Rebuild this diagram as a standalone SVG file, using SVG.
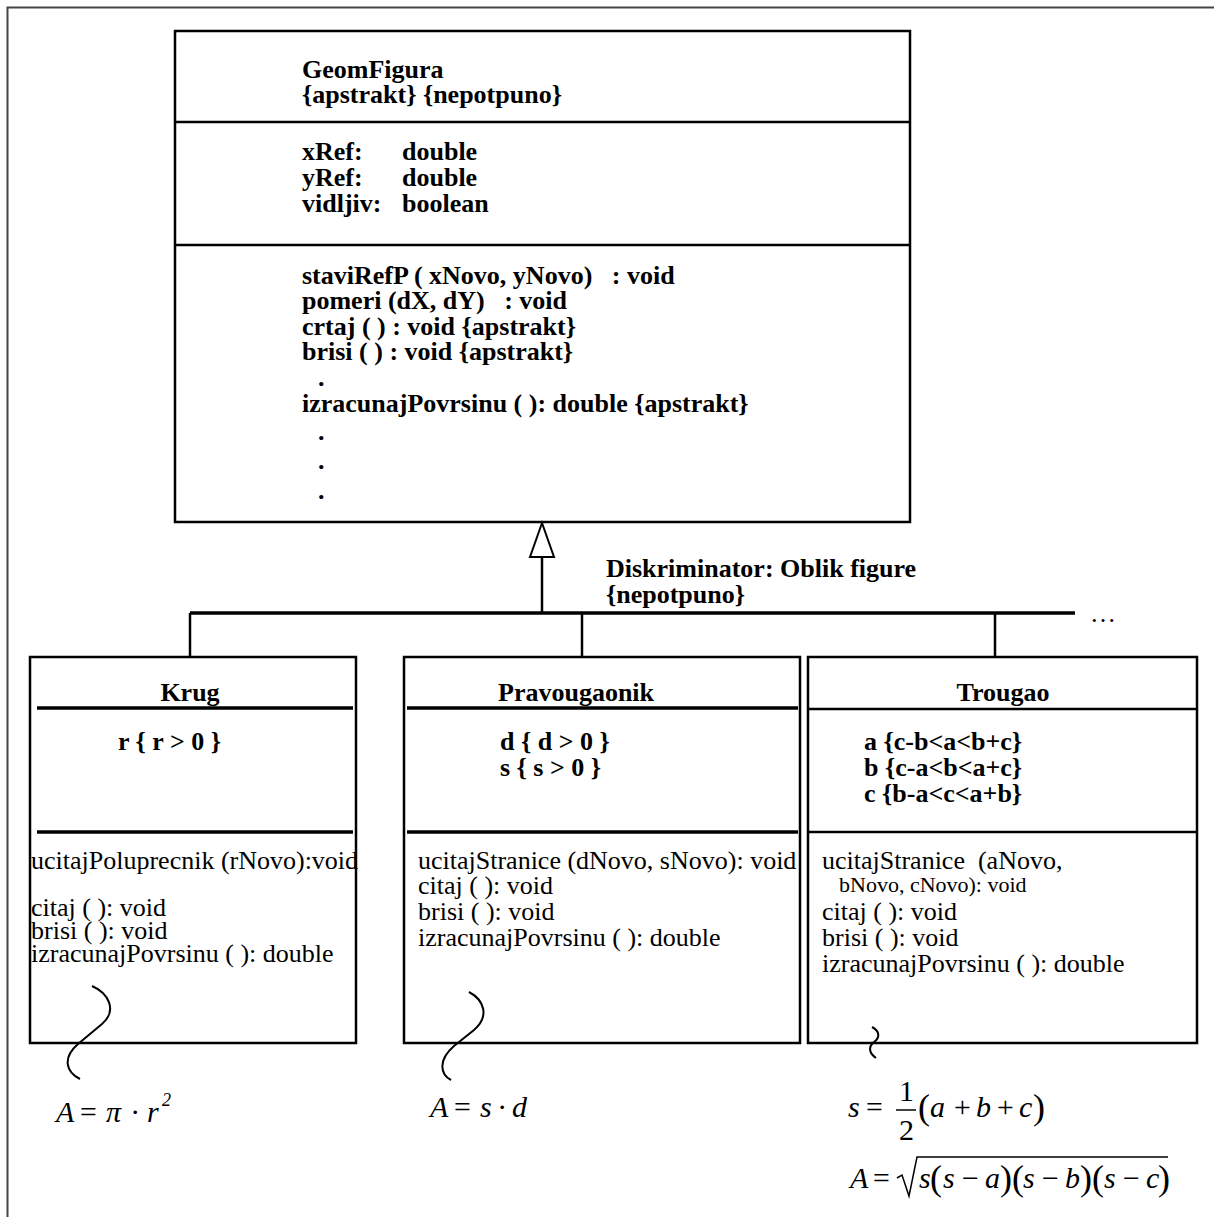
<svg xmlns="http://www.w3.org/2000/svg" width="1214" height="1217" viewBox="0 0 1214 1217">
<style>
  text { font-family: "Liberation Serif", "Times New Roman", serif; fill: #000; white-space: pre; }
  .b { font-weight: bold; font-size: 26px; }
  .r { font-size: 26px; }
  .m { font-style: italic; font-size: 30px; }
  .mu { font-size: 30px; }
  .box { fill: #fff; stroke: #000; stroke-width: 2.5; }
  .div { stroke: #000; stroke-width: 2.5; }
  .div3 { stroke: #000; stroke-width: 3.5; }
  .ln { stroke: #000; stroke-width: 2.5; fill: none; }
  .sq { stroke: #000; stroke-width: 2; fill: none; }
</style>
<rect width="1214" height="1217" fill="#fff"/>
<path d="M7.5,1217 V7.5 H1214" fill="none" stroke="#444" stroke-width="2"/>

<g id="GeomFigura">
  <rect class="box" x="175" y="31" width="735" height="491"/>
  <line class="div" x1="175" y1="122" x2="910" y2="122"/>
  <line class="div" x1="175" y1="245" x2="910" y2="245"/>
  <text class="b" x="302" y="78">GeomFigura</text>
  <text class="b" x="302" y="103">{apstrakt} {nepotpuno}</text>
  <text class="b" x="302" y="160">xRef:</text><text class="b" x="402" y="160">double</text>
  <text class="b" x="302" y="186">yRef:</text><text class="b" x="402" y="186">double</text>
  <text class="b" x="302" y="212">vidljiv:</text><text class="b" x="402" y="212">boolean</text>
  <text class="b" x="302" y="284">staviRefP ( xNovo, yNovo)   : void</text>
  <text class="b" x="302" y="309">pomeri (dX, dY)   : void</text>
  <text class="b" x="302" y="335">crtaj ( ) : void {apstrakt}</text>
  <text class="b" x="302" y="360">brisi ( ) : void {apstrakt}</text>
  <text class="b" x="318" y="386">.</text>
  <text class="b" x="302" y="412">izracunajPovrsinu ( ): double {apstrakt}</text>
  <text class="b" x="318" y="440">.</text>
  <text class="b" x="318" y="469">.</text>
  <text class="b" x="318" y="499">.</text>
</g>

<g id="discriminator">
  <text class="b" x="606" y="577">Diskriminator: Oblik figure</text>
  <text class="b" x="606" y="603">{nepotpuno}</text>
  <text class="r" x="1090" y="622">…</text>
</g>

<g id="Krug">
  <rect class="box" x="30" y="657" width="326" height="386"/>
  <line class="div3" x1="37" y1="708" x2="353" y2="708"/>
  <line class="div3" x1="37" y1="832" x2="353" y2="832"/>
  <text class="b" x="190" y="701" text-anchor="middle">Krug</text>
  <text class="b" x="118" y="750">r { r &gt; 0 }</text>
  <text class="r" x="31" y="869">ucitajPoluprecnik (rNovo):void</text>
  <text class="r" x="31" y="916">citaj ( ): void</text>
  <text class="r" x="31" y="939">brisi ( ): void</text>
  <text class="r" x="31" y="962">izracunajPovrsinu ( ): double</text>
</g>

<g id="Pravougaonik">
  <rect class="box" x="404" y="657" width="396" height="386"/>
  <line class="div3" x1="407" y1="708" x2="798" y2="708"/>
  <line class="div3" x1="407" y1="832" x2="798" y2="832"/>
  <text class="b" x="498" y="701">Pravougaonik</text>
  <text class="b" x="500" y="750">d { d &gt; 0 }</text>
  <text class="b" x="500" y="776">s { s &gt; 0 }</text>
  <text class="r" x="418" y="869">ucitajStranice (dNovo, sNovo): void</text>
  <text class="r" x="418" y="894">citaj ( ): void</text>
  <text class="r" x="418" y="920">brisi ( ): void</text>
  <text class="r" x="418" y="946">izracunajPovrsinu ( ): double</text>
</g>

<g id="Trougao">
  <rect class="box" x="808" y="657" width="389" height="386"/>
  <line class="div" x1="808" y1="709" x2="1197" y2="709"/>
  <line class="div" x1="808" y1="832" x2="1197" y2="832"/>
  <text class="b" x="1003" y="701" text-anchor="middle">Trougao</text>
  <text class="b" x="864" y="750">a {c-b&lt;a&lt;b+c}</text>
  <text class="b" x="864" y="776">b {c-a&lt;b&lt;a+c}</text>
  <text class="b" x="864" y="802">c {b-a&lt;c&lt;a+b}</text>
  <text class="r" x="822" y="869">ucitajStranice  (aNovo,</text>
  <text class="r" x="839" y="892" style="font-size:22px">bNovo, cNovo): void</text>
  <text class="r" x="822" y="920">citaj ( ): void</text>
  <text class="r" x="822" y="946">brisi ( ): void</text>
  <text class="r" x="822" y="972">izracunajPovrsinu ( ): double</text>
</g>

<g id="connectors">
  <polygon points="542,523 530,557 554,557" fill="#fff" stroke="#000" stroke-width="2"/>
  <line class="ln" x1="542" y1="557" x2="542" y2="613"/>
  <line stroke="#000" stroke-width="3.5" x1="190" y1="613" x2="1075" y2="613"/>
  <line class="ln" x1="190" y1="613" x2="190" y2="657"/>
  <line class="ln" x1="582" y1="613" x2="582" y2="657"/>
  <line class="ln" x1="995" y1="613" x2="995" y2="657"/>
  <path class="sq" d="M92,986 C108,993 118,1010 102,1024 L78,1044 C62,1058 66,1072 80,1079"/>
  <path class="sq" d="M469,992 C484,1000 490,1016 474,1030 L454,1046 C438,1060 440,1074 451,1080"/>
  <path class="sq" d="M872,1027 C880,1031 880,1038 874,1042 C868,1047 869,1053 876,1058"/>
</g>

<g id="formula-krug">
  <text class="m" x="56" y="1122">A<tspan class="mu" x="78">=</tspan><tspan x="106">π</tspan><tspan class="mu" x="131">·</tspan><tspan x="147">r</tspan><tspan class="mu" style="font-size:18px" x="162" y="1106">2</tspan></text>
</g>

<g id="formula-pravougaonik">
  <text class="m" x="430" y="1117">A<tspan class="mu" x="452">=</tspan><tspan x="480">s</tspan><tspan class="mu" x="498">·</tspan><tspan x="512">d</tspan></text>
</g>

<g id="formula-trougao">
  <text class="m" x="848" y="1117">s<tspan class="mu" x="864">=</tspan></text>
  <text class="mu" x="899" y="1101">1</text>
  <line stroke="#000" stroke-width="1.5" x1="896" y1="1110" x2="916" y2="1110"/>
  <text class="mu" x="899" y="1140">2</text>
  <text class="mu" x="918" y="1119" style="font-size:36px">(</text>
  <text class="m" x="930" y="1117">a<tspan class="mu" x="952">+</tspan><tspan x="976">b</tspan><tspan class="mu" x="995">+</tspan><tspan x="1019">c</tspan></text>
  <text class="mu" x="1033" y="1119" style="font-size:36px">)</text>

  <text class="m" x="850" y="1188">A<tspan class="mu" x="871">=</tspan></text>
  <polyline points="897,1178 902,1175 909,1196 917,1157 1168,1157" fill="none" stroke="#000" stroke-width="1.5"/>
  <text class="m" x="919" y="1188">s</text>
  <text class="mu" x="930" y="1190" style="font-size:36px">(</text>
  <text class="m" x="943" y="1188">s<tspan class="mu" x="960">−</tspan><tspan x="985">a</tspan></text>
  <text class="mu" x="1000" y="1190" style="font-size:36px">)(</text>
  <text class="m" x="1023" y="1188">s<tspan class="mu" x="1040">−</tspan><tspan x="1065">b</tspan></text>
  <text class="mu" x="1080" y="1190" style="font-size:36px">)(</text>
  <text class="m" x="1104" y="1188">s<tspan class="mu" x="1121">−</tspan><tspan x="1146">c</tspan></text>
  <text class="mu" x="1158" y="1190" style="font-size:36px">)</text>
</g>
</svg>
